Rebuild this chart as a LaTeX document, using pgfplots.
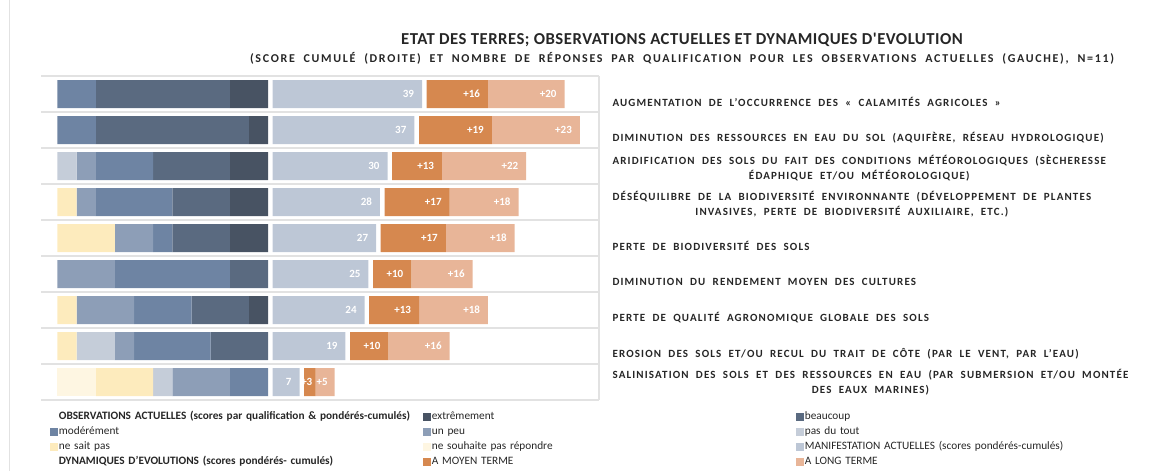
\documentclass[border=0pt]{standalone}
\usepackage{fontspec}
\setmainfont{Carlito}
\newfontfamily\titlefont[LetterSpace=3]{Carlito}
\newfontfamily\subfont[LetterSpace=14,WordSpace=2]{Carlito}
\newfontfamily\labfont[LetterSpace=10.5,WordSpace=2]{Carlito}
\usepackage{pgfplots}
\usepackage{pgfplotstable}
\pgfplotsset{compat=1.18}

\definecolor{cExt}{HTML}{485363}
\definecolor{cBcp}{HTML}{5A6A80}
\definecolor{cMod}{HTML}{6E84A3}
\definecolor{cUp}{HTML}{8D9EB7}
\definecolor{cPdt}{HTML}{C5CDD9}
\definecolor{cNsp}{HTML}{FDEBBD}
\definecolor{cNsr}{HTML}{FEF6E2}
\definecolor{cScore}{HTML}{BDC7D6}
\definecolor{cMoy}{HTML}{D6884F}
\definecolor{cLong}{HTML}{E8B598}
\definecolor{cSep}{HTML}{E2E2E2}
\definecolor{cTxt}{HTML}{262626}

% counts of respondents (N=11) by qualification, score, dynamics
\pgfplotstableread{
row nsr nsp pdt up mod bcp ext gap score moy long
1   0   0   0   0  2   7   2   1.2 39    16  20
2   0   0   0   0  2   8   1   1.2 37    19  23
3   0   0   1   1  3   4   2   1.2 30    13  22
4   0   1   0   1  4   3   2   1.2 28    17  18
5   0   3   0   2  1   3   2   1.2 27    17  18
6   0   0   0   3  6   2   0   1.2 25    10  16
7   0   1   0   3  3   3   1   1.2 24    13  18
8   0   1   2   1  4   3   0   1.2 19    10  16
9   2   3   1   3  2   0   0   1.2 7     3   5
}\data

\begin{document}
\begin{tikzpicture}[x=1pt,y=1pt]
\begin{axis}[
  at={(41pt,71pt)}, anchor=south west,
  scale only axis, width=558pt, height=324pt,
  xbar stacked, bar width=28pt,
  xmin=-4.3, xmax=141.4, ymin=0.5, ymax=9.5, y dir=reverse,
  axis x line=none,
  axis y line*=right,
  y axis line style={draw=cSep, line width=1.2pt},
  ytick={0.5,1.5,...,9.5}, yticklabels={},
  major tick length=0pt,
  ymajorgrids, grid style={draw=cSep, line width=1.2pt},
  clip=false,
  every node near coord/.append style={anchor=east, xshift={max(\myval*1.915-4.5,6)}, text=white,
     font=\bfseries\fontsize{11}{12}\selectfont},
  legend columns=3,
  legend cell align=left,
  legend style={at={(axis description cs:0.0156,-0.0328)}, anchor=north west,
     draw=none, fill=none, inner sep=0pt, font=\fontsize{11.3}{12}\selectfont, text=cTxt,
     row sep=3pt,
     nodes={text width=362pt, inner xsep=2pt, inner ysep=0pt, text height=9pt, text depth=3pt}},
]
\addplot[fill=cNsr, draw=none, forget plot] table[x expr=\thisrow{nsr}*5, y=row]{\data};
\addplot[fill=cNsp, draw=none, forget plot] table[x expr=\thisrow{nsp}*5, y=row]{\data};
\addplot[fill=cPdt, draw=none, forget plot] table[x expr=\thisrow{pdt}*5, y=row]{\data};
\addplot[fill=cUp, draw=none, forget plot] table[x expr=\thisrow{up}*5, y=row]{\data};
\addplot[fill=cMod, draw=none, forget plot] table[x expr=\thisrow{mod}*5, y=row]{\data};
\addplot[fill=cBcp, draw=none, forget plot] table[x expr=\thisrow{bcp}*5, y=row]{\data};
\addplot[fill=cExt, draw=none, forget plot] table[x expr=\thisrow{ext}*5, y=row]{\data};
\addplot[fill=none, draw=none, forget plot] table[x=gap, y=row]{\data};
\addplot[fill=cScore, draw=none, forget plot,
   visualization depends on={\thisrow{score} \as \myval},
   point meta=explicit symbolic,
   nodes near coords={\pgfplotspointmeta}]
   table[x=score, y=row, meta=score]{\data};
\addplot[fill=none, draw=none, forget plot] table[x=gap, y=row]{\data};
\addplot[fill=cMoy, draw=none, forget plot,
   visualization depends on={\thisrow{moy} \as \myval},
   point meta=explicit symbolic,
   nodes near coords={+\pgfplotspointmeta}]
   table[x=moy, y=row, meta=moy]{\data};
\addplot[fill=cLong, draw=none, forget plot,
   visualization depends on={\thisrow{long} \as \myval},
   point meta=explicit symbolic,
   nodes near coords={+\pgfplotspointmeta}]
   table[x=long, y=row, meta=long]{\data};

\addlegendimage{legend image code/.code={}}
\addlegendentry{\textbf{OBSERVATIONS ACTUELLES (scores par qualification \& pondérés-cumulés)}}
\addlegendimage{legend image code/.code={\fill[cExt] (0pt,-3.3pt) rectangle (6.6pt,3.3pt);}}
\addlegendentry{extrêmement}
\addlegendimage{legend image code/.code={\fill[cBcp] (0pt,-3.3pt) rectangle (6.6pt,3.3pt);}}
\addlegendentry{beaucoup}
\addlegendimage{legend image code/.code={\fill[cMod] (0pt,-3.3pt) rectangle (6.6pt,3.3pt);}}
\addlegendentry{modérément}
\addlegendimage{legend image code/.code={\fill[cUp] (0pt,-3.3pt) rectangle (6.6pt,3.3pt);}}
\addlegendentry{un peu}
\addlegendimage{legend image code/.code={\fill[cPdt] (0pt,-3.3pt) rectangle (6.6pt,3.3pt);}}
\addlegendentry{pas du tout}
\addlegendimage{legend image code/.code={\fill[cNsp] (0pt,-3.3pt) rectangle (6.6pt,3.3pt);}}
\addlegendentry{ne sait pas}
\addlegendimage{legend image code/.code={\fill[cNsr] (0pt,-3.3pt) rectangle (6.6pt,3.3pt);}}
\addlegendentry{ne souhaite pas répondre}
\addlegendimage{legend image code/.code={\fill[cScore] (0pt,-3.3pt) rectangle (6.6pt,3.3pt);}}
\addlegendentry{MANIFESTATION ACTUELLES (scores pondérés-cumulés)}
\addlegendimage{legend image code/.code={}}
\addlegendentry{\textbf{DYNAMIQUES D'EVOLUTIONS (scores pondérés- cumulés)}}
\addlegendimage{legend image code/.code={\fill[cMoy] (0pt,-3.3pt) rectangle (6.6pt,3.3pt);}}
\addlegendentry{A MOYEN TERME}
\addlegendimage{legend image code/.code={\fill[cLong] (0pt,-3.3pt) rectangle (6.6pt,3.3pt);}}
\addlegendentry{A LONG TERME}

\tikzset{lab/.style={anchor=west, align=center, xshift=10pt, text=cTxt,
   font=\labfont\bfseries\fontsize{11}{15}\selectfont}}
\node[lab, yshift=-7.5pt] at (axis cs:141.4,1) {AUGMENTATION DE L’OCCURRENCE DES « CALAMITÉS AGRICOLES »};
\node[lab, yshift=-7.5pt] at (axis cs:141.4,2) {DIMINUTION DES RESSOURCES EN EAU DU SOL (AQUIFÈRE, RÉSEAU HYDROLOGIQUE)};
\node[lab, yshift=-2.5pt] at (axis cs:141.4,3) {ARIDIFICATION DES SOLS DU FAIT DES CONDITIONS MÉTÉOROLOGIQUES (SÈCHERESSE\\ÉDAPHIQUE ET/OU MÉTÉOROLOGIQUE)};
\node[lab, yshift=-2.5pt] at (axis cs:141.4,4) {DÉSÉQUILIBRE DE LA BIODIVERSITÉ ENVIRONNANTE (DÉVELOPPEMENT DE PLANTES\\INVASIVES, PERTE DE BIODIVERSITÉ AUXILIAIRE, ETC.)};
\node[lab, yshift=-7.5pt] at (axis cs:141.4,5) {PERTE DE BIODIVERSITÉ DES SOLS};
\node[lab, yshift=-7.5pt] at (axis cs:141.4,6) {DIMINUTION DU RENDEMENT MOYEN DES CULTURES};
\node[lab, yshift=-7.5pt] at (axis cs:141.4,7) {PERTE DE QUALITÉ AGRONOMIQUE GLOBALE DES SOLS};
\node[lab, yshift=-7.5pt] at (axis cs:141.4,8) {EROSION DES SOLS ET/OU RECUL DU TRAIT DE CÔTE (PAR LE VENT, PAR L’EAU)};
\node[lab, yshift=0pt] at (axis cs:141.4,9) {SALINISATION DES SOLS ET DES RESSOURCES EN EAU (PAR SUBMERSION ET/OU MONTÉE\\DES EAUX MARINES)};
\end{axis}
\node[font=\titlefont\bfseries\fontsize{16.7}{18}\selectfont, text=cTxt] at (682pt,431pt)
  {ETAT DES TERRES; OBSERVATIONS ACTUELLES ET DYNAMIQUES D'EVOLUTION};
\node[font=\subfont\bfseries\fontsize{12}{14}\selectfont, text=cTxt] at (682pt,413pt)
  {(SCORE CUMULÉ (DROITE) ET NOMBRE DE RÉPONSES PAR QUALIFICATION POUR LES OBSERVATIONS ACTUELLES (GAUCHE), N=11)};
\draw[cSep, line width=1pt] (9.5pt,0pt) -- (9.5pt,471pt);
\pgfresetboundingbox
\useasboundingbox (0pt,0pt) rectangle (1152pt,471pt);
\end{tikzpicture}
\end{document}
